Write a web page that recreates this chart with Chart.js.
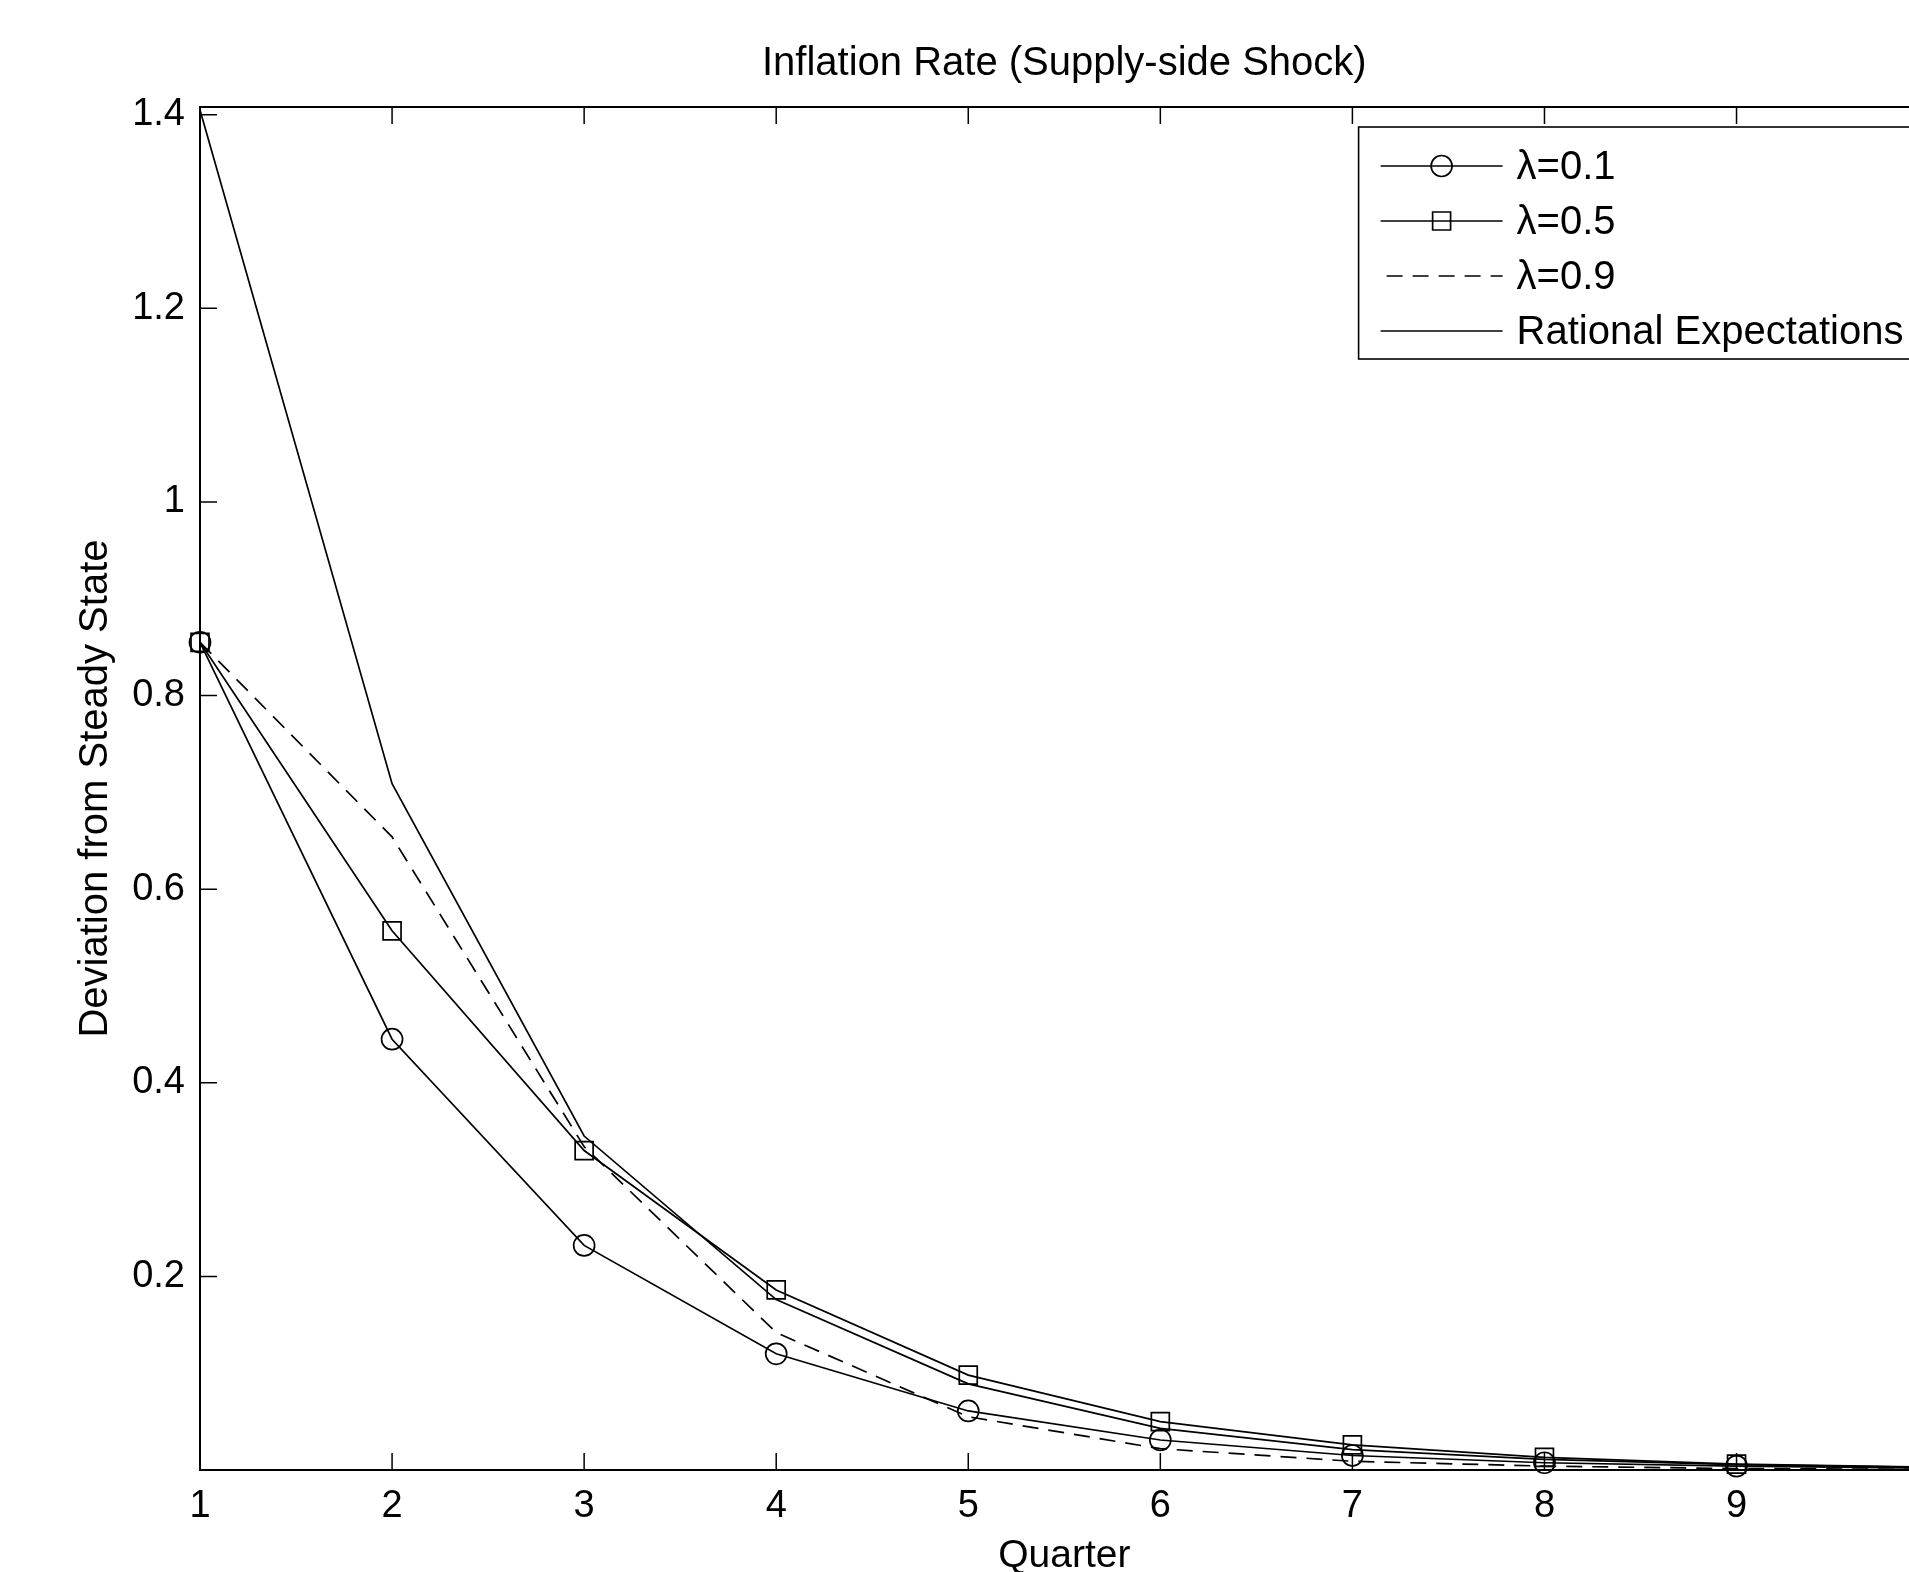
<!DOCTYPE html>
<html>
<head>
<meta charset="utf-8">
<title>Inflation Rate (Supply-side Shock)</title>
<script src="https://cdn.jsdelivr.net/npm/chart.js@4.4.1/dist/chart.umd.min.js"></script>
<style>
  html, body { margin: 0; padding: 0; background: #fff; overflow: hidden; }
  canvas { display: block; }
</style>
</head>
<body>
<canvas id="myChart" width="1943" height="1572"></canvas>
<script>
// quarters 1..10
const quarters = [1, 2, 3, 4, 5, 6, 7, 8, 9, 10];
const lambda01 = [0.855, 0.445, 0.232, 0.120, 0.061, 0.031, 0.015, 0.0075, 0.004, 0.002];
const lambda05 = [0.855, 0.557, 0.330, 0.186, 0.098, 0.050, 0.026, 0.013, 0.006, 0.003];
const lambda09 = [0.855, 0.654, 0.334, 0.142, 0.055, 0.022, 0.009, 0.004, 0.0015, 0.0006];
const ratExp   = [1.405, 0.709, 0.345, 0.176, 0.089, 0.043, 0.021, 0.011, 0.0055, 0.0027];

const xTicks = [1, 2, 3, 4, 5, 6, 7, 8, 9];
const yTicks = [0.2, 0.4, 0.6, 0.8, 1.0, 1.2, 1.4];
const yTickLabels = ["0.2", "0.4", "0.6", "0.8", "1", "1.2", "1.4"];

const FONT = "'Liberation Sans', Arial, Helvetica, sans-serif";

const pts = (arr) => arr.map((v, i) => ({ x: quarters[i], y: v }));

// matlab style box with inward ticks
const boxPlugin = {
  id: "boxPlugin",
  afterDraw(chart) {
    const { ctx, chartArea: a, scales } = chart;
    ctx.save();
    ctx.strokeStyle = "#000";
    ctx.lineWidth = 2;
    ctx.strokeRect(a.left, a.top, a.right - a.left, a.bottom - a.top);
    ctx.lineWidth = 1.5;
    const t = 17;
    ctx.beginPath();
    xTicks.forEach(v => {
      const x = scales.x.getPixelForValue(v);
      ctx.moveTo(x, a.bottom); ctx.lineTo(x, a.bottom - t);
      ctx.moveTo(x, a.top); ctx.lineTo(x, a.top + t);
    });
    yTicks.forEach(v => {
      const y = scales.y.getPixelForValue(v);
      ctx.moveTo(a.left, y); ctx.lineTo(a.left + t, y);
      ctx.moveTo(a.right, y); ctx.lineTo(a.right - t, y);
    });
    ctx.stroke();
    ctx.restore();
  }
};

// legend drawn inside the axes, top right
const legendPlugin = {
  id: "legendPlugin",
  afterDraw(chart) {
    const { ctx, chartArea: a } = chart;
    const left = a.right - 570;
    const top = a.top + 20;
    const bottom = top + 232;
    ctx.save();
    ctx.fillStyle = "#fff";
    ctx.fillRect(left, top, a.right - left + 20, bottom - top);
    ctx.strokeStyle = "#000";
    ctx.lineWidth = 1.6;
    ctx.strokeRect(left, top, a.right - left + 20, bottom - top);
    chart.data.datasets.forEach((ds, i) => {
      const y = top + 39 + i * 55;
      ctx.strokeStyle = "#000";
      ctx.lineWidth = ds.borderWidth;
      ctx.setLineDash(ds.borderDash || []);
      ctx.beginPath();
      ctx.moveTo(left + (ds.borderDash ? 28 : 22), y);
      ctx.lineTo(left + 144, y);
      ctx.stroke();
      ctx.setLineDash([]);
      if (ds.pointRadius > 0) {
        ctx.fillStyle = "rgba(0,0,0,0)";
        Chart.helpers.drawPoint(ctx, {
          pointStyle: ds.pointStyle,
          radius: ds.pointRadius,
          borderWidth: ds.pointBorderWidth
        }, left + 83, y);
      }
      ctx.fillStyle = "#000";
      ctx.font = "40px " + FONT;
      ctx.textBaseline = "middle";
      ctx.textAlign = "left";
      ctx.fillText(ds.label, left + 158, y + 2);
    });
    ctx.restore();
  }
};

const config = {
  type: "line",
  data: {
    datasets: [
      {
        label: "λ=0.1",
        data: pts(lambda01),
        borderColor: "#000",
        borderWidth: 1.7,
        pointStyle: "circle",
        pointRadius: 10.5,
        pointBorderWidth: 1.7,
        pointBorderColor: "#000",
        pointBackgroundColor: "rgba(0,0,0,0)",
        clip: false
      },
      {
        label: "λ=0.5",
        data: pts(lambda05),
        borderColor: "#000",
        borderWidth: 1.7,
        pointStyle: "rect",
        pointRadius: 12.7,
        pointBorderWidth: 1.7,
        pointBorderColor: "#000",
        pointBackgroundColor: "rgba(0,0,0,0)",
        clip: false
      },
      {
        label: "λ=0.9",
        data: pts(lambda09),
        borderColor: "#000",
        borderWidth: 1.7,
        borderDash: [16, 10],
        pointRadius: 0,
        clip: false
      },
      {
        label: "Rational Expectations",
        data: pts(ratExp),
        borderColor: "#000",
        borderWidth: 1.7,
        pointRadius: 0,
        clip: false
      }
    ]
  },
  options: {
    responsive: false,
    animation: false,
    devicePixelRatio: 1,
    layout: { padding: { left: 0, right: 1, top: 0, bottom: 0 } },
    elements: { line: { tension: 0 } },
    plugins: {
      legend: { display: false },
      tooltip: { enabled: false },
      title: {
        display: true,
        text: "Inflation Rate (Supply-side Shock)",
        color: "#000",
        fullSize: false,
        font: { family: FONT, size: 40, weight: "normal" },
        padding: { top: 40, bottom: 19 }
      }
    },
    scales: {
      x: {
        type: "linear",
        position: "bottom",
        min: 1,
        max: 10,
        grid: { display: false, drawTicks: false },
        border: { display: false },
        afterBuildTicks: (s) => { s.ticks = xTicks.map(v => ({ value: v })); },
        afterFit: (s) => { s.height = 102; },
        ticks: {
          color: "#000",
          font: { family: FONT, size: 38 },
          padding: 14,
          autoSkip: false,
          maxRotation: 0,
          callback: (v) => String(v)
        },
        title: {
          display: true,
          text: "Quarter",
          color: "#000",
          font: { family: FONT, size: 39, lineHeight: 1 },
          padding: { top: 0, bottom: -4 }
        }
      },
      y: {
        type: "linear",
        min: 0,
        max: 1.408,
        grid: { display: false, drawTicks: false },
        border: { display: false },
        afterBuildTicks: (s) => { s.ticks = yTicks.map(v => ({ value: v })); },
        afterFit: (s) => { s.width = 200; },
        ticks: {
          color: "#000",
          font: { family: FONT, size: 38 },
          padding: 15,
          callback: (v, i) => yTickLabels[i]
        },
        title: {
          display: true,
          text: "Deviation from Steady State",
          color: "#000",
          font: { family: FONT, size: 40, lineHeight: 1 },
          padding: { top: 76, bottom: 0 }
        }
      }
    }
  },
  plugins: [boxPlugin, legendPlugin]
};

const myChart = document.getElementById("myChart");
new Chart(myChart, config);
</script>
</body>
</html>
